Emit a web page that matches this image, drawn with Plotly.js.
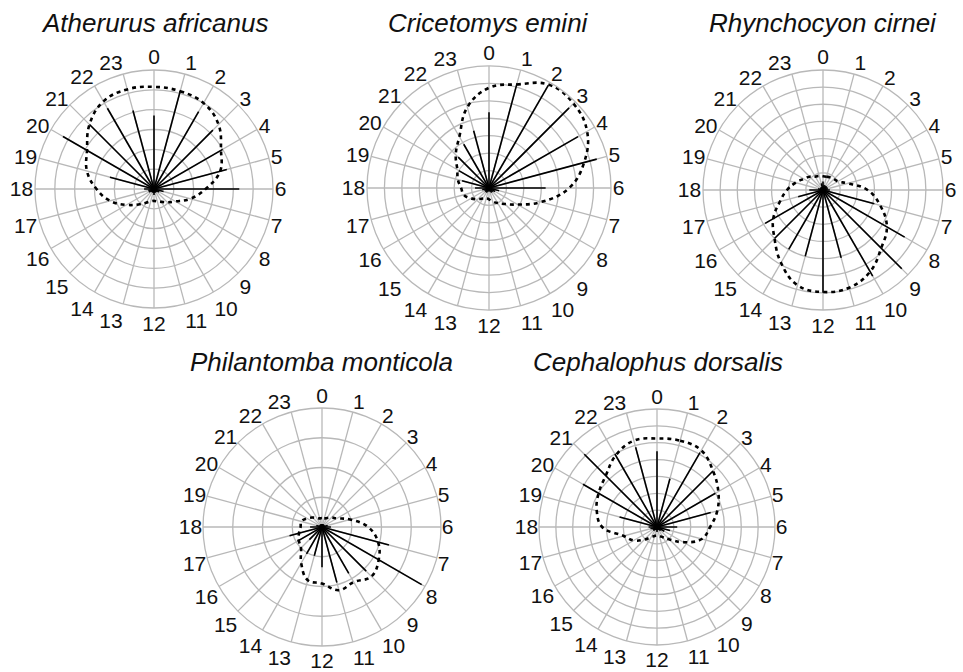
<!DOCTYPE html>
<html>
<head>
<meta charset="utf-8">
<script src="https://cdn.plot.ly/plotly-3.0.1.min.js"></script>
<style>html,body{margin:0;padding:0;background:#fff;}#chart{width:963px;height:672px;}</style>
</head>
<body>
<div id="chart"></div>
<script>
// Hours of the day (angular categories)
var hours = [0,1,2,3,4,5,6,7,8,9,10,11,12,13,14,15,16,17,18,19,20,21,22,23];

// Species names (panel titles)
var species = ["Atherurus africanus", "Cricetomys emini", "Rhynchocyon cirnei", "Philantomba monticola", "Cephalophus dorsalis"];

// Number of radial grid rings per panel (radial axis maximum, in grid units)
var rings = [6, 7, 7, 4, 7];

// Hourly activity (spike lengths, grid units)
var spikesA = [3.7, 5.1, 4.5, 4.2, 4.0, 3.8, 4.3, 0.5, 0.3, 0.2, 0.2, 0.2, 0.3, 0.2, 0.2, 0.2, 0.3, 0.3, 0.5, 2.3, 5.3, 4.6, 4.7, 4.1];
var spikesB = [4.35, 6.2, 6.8, 6.5, 5.9, 6.4, 3.25, 0.6, 0.4, 0.3, 0.3, 0.2, 0.2, 0.2, 0.3, 0.3, 0.3, 0.4, 0.8, 1.6, 2.0, 2.5, 2.9, 3.4];
var spikesC = [0.5, 0.3, 0.3, 0.3, 0.3, 0.3, 0.4, 3.1, 5.5, 6.5, 5.8, 4.1, 6.0, 4.0, 4.0, 4.0, 3.9, 1.5, 0.8, 0.3, 0.2, 0.2, 0.2, 0.4];
var spikesD = [0.1, 0.1, 0.1, 0.1, 0.1, 0.2, 0.3, 2.33, 3.87, 2.1, 1.8, 1.93, 1.35, 1.0, 1.04, 0.6, 0.95, 1.13, 0.4, 0.2, 0.1, 0.1, 0.1, 0.1];
var spikesE = [4.5, 2.96, 5.1, 4.7, 4.0, 3.3, 1.2, 0.8, 0.5, 0.3, 0.2, 0.2, 0.3, 0.2, 0.2, 0.3, 0.3, 0.4, 0.5, 2.3, 5.07, 6.1, 5.0, 4.9];

// Kernel density estimate (dashed curve, grid units) read at each hour
var densA = [5.15, 5.1, 5.0, 4.6, 3.9, 3.45, 2.6, 1.9, 1.25, 0.95, 0.75, 0.65, 0.6, 0.65, 0.8, 1.1, 1.6, 2.3, 2.9, 3.5, 3.9, 4.6, 5.1, 5.2];
var densB = [5.75, 6.15, 6.85, 6.85, 6.5, 5.65, 4.6, 3.1, 1.9, 1.3, 1.0, 0.8, 0.65, 0.6, 0.7, 0.9, 1.2, 1.5, 1.6, 1.85, 2.1, 2.7, 3.4, 4.8];
var densC = [0.8, 0.8, 0.85, 0.9, 1.0, 1.5, 2.6, 3.45, 4.3, 4.8, 5.5, 5.9, 5.95, 5.75, 4.9, 4.0, 3.35, 2.6, 2.1, 1.65, 1.3, 1.1, 0.9, 0.85];
var densD = [0.3, 0.3, 0.35, 0.45, 0.58, 0.98, 1.55, 1.95, 2.2, 2.35, 2.14, 2.2, 1.9, 1.85, 1.4, 1.0, 0.9, 0.8, 0.72, 0.72, 0.58, 0.45, 0.35, 0.3];
var densE = [5.25, 5.3, 5.25, 4.7, 4.2, 3.7, 3.15, 2.75, 1.8, 1.05, 0.7, 0.55, 0.5, 0.55, 0.7, 1.05, 1.6, 2.05, 3.25, 3.7, 4.0, 4.3, 4.9, 5.3];

var spikes = [spikesA, spikesB, spikesC, spikesD, spikesE];
var dens = [densA, densB, densC, densD, densE];

// Panel placement in pixels (layout only): centre x, centre y, radius, label inset
var geom = [
  [154, 189, 119, 3],
  [489, 188, 122, 3],
  [823, 190, 120, 3],
  [322, 527, 119, 4],
  [657, 527, 118, 4]
];
var titlePos = [[154, 23], [488, 23], [823, 23], [321, 362], [658, 362]];

var W = 963, H = 672;
var GRID = '#b8b8b8';
var FONT = '"Liberation Sans", Arial, Helvetica, sans-serif';

function dom(cx, cy, r) {
  return {x: [(cx - r) / W, (cx + r) / W], y: [(H - cy - r) / H, (H - cy + r) / H]};
}
function angAxis(showLabels, showGrid) {
  return {
    type: 'linear', thetaunit: 'degrees',
    rotation: 90, direction: 'clockwise',
    tickmode: 'array',
    tickvals: hours.map(function(h){ return h * 15; }),
    ticktext: hours.map(String),
    ticks: '',
    showline: true, linecolor: showGrid ? GRID : 'rgba(0,0,0,0)', linewidth: 1.3,
    showgrid: showGrid, gridcolor: GRID, gridwidth: 1.3,
    showticklabels: showLabels,
    tickfont: {family: FONT, size: 21, color: '#111'}
  };
}

var traces = [];
var layout = {
  width: W, height: H,
  margin: {l:0, r:0, t:0, b:0},
  paper_bgcolor: '#ffffff',
  showlegend: false,
  annotations: []
};

for (var p = 0; p < 5; p++) {
  var sub = p === 0 ? 'polar' : 'polar' + (p + 1);
  var lab = 'polar' + (p + 6);
  var g = geom[p];
  // spikes: one segment per hour from the centre
  var rs = [], ts = [];
  for (var i = 0; i < hours.length; i++) {
    rs.push(0, spikes[p][i], null);
    ts.push(hours[i] * 15, hours[i] * 15, null);
  }
  traces.push({
    type: 'scatterpolar', subplot: sub, mode: 'lines',
    r: rs, theta: ts, thetaunit: 'degrees',
    line: {color: '#000', width: 1.6},
    hoverinfo: 'skip', connectgaps: false
  });
  // density: closed dashed curve
  var rd = dens[p].concat([dens[p][0]]);
  var td = hours.map(function(h){ return h * 15; }).concat([360]);
  traces.push({
    type: 'scatterpolar', subplot: sub, mode: 'lines',
    r: rd, theta: td, thetaunit: 'degrees',
    line: {color: '#000', width: 2.6, dash: '4px,4px', shape: 'spline', smoothing: 1.2},
    hoverinfo: 'skip'
  });
  // empty trace so that the label-only overlay subplot is created
  traces.push({
    type: 'scatterpolar', subplot: lab, mode: 'lines',
    r: [], theta: [], hoverinfo: 'skip'
  });

  layout[sub] = {
    domain: dom(g[0], g[1], g[2]),
    bgcolor: '#ffffff',
    radialaxis: {
      range: [0, rings[p]], tick0: 0, dtick: 1,
      showticklabels: false, ticks: '', showline: false,
      gridcolor: GRID, gridwidth: 1.3
    },
    angularaxis: angAxis(false, true)
  };
  // label-only overlay so hour labels sit close to the outer ring
  layout[lab] = {
    domain: dom(g[0], g[1], g[2] - g[3]),
    bgcolor: 'rgba(0,0,0,0)',
    radialaxis: {visible: false, range: [0, rings[p]]},
    angularaxis: angAxis(true, false)
  };

  layout.annotations.push({
    xref: 'paper', yref: 'paper',
    x: titlePos[p][0] / W, y: 1 - titlePos[p][1] / H,
    xanchor: 'center', yanchor: 'middle',
    text: '<i>' + species[p] + '</i>', showarrow: false,
    font: {family: FONT, size: 26, color: '#111', style: 'italic'}
  });
}

Plotly.newPlot('chart', traces, layout, {staticPlot: true, displayModeBar: false});
</script>
</body>
</html>
